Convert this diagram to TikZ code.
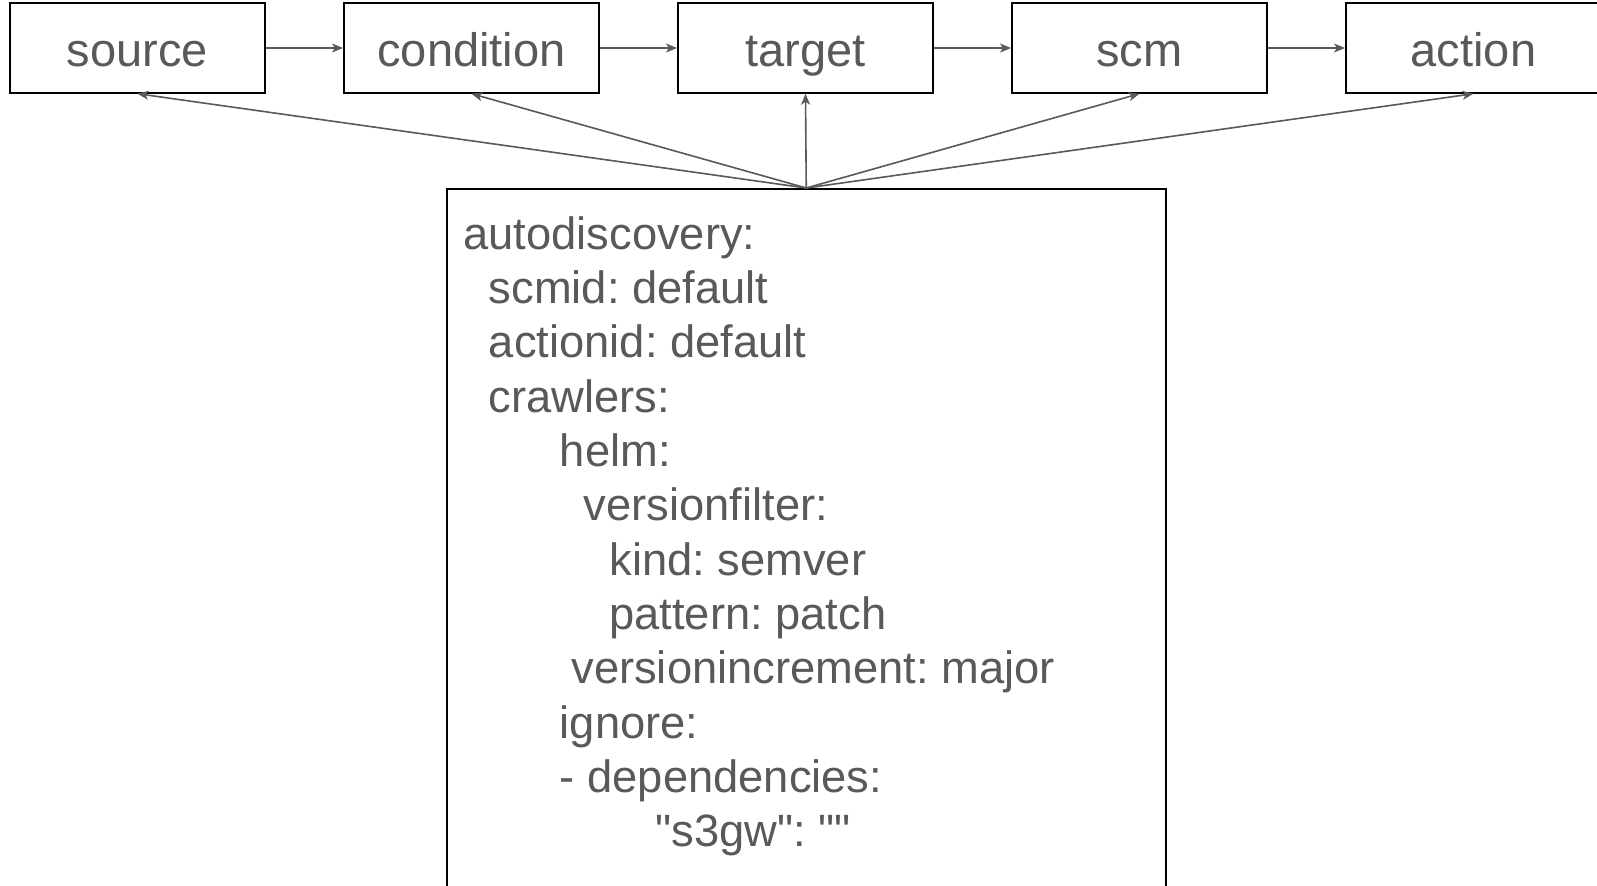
\documentclass[tikz,border=0pt]{standalone}
\usepackage{fontspec}
\setmainfont{Liberation Sans}[Ligatures=TeXOff]
\usetikzlibrary{arrows.meta}
\definecolor{txtgray}{HTML}{595959}
\frenchspacing
\begin{document}
\begin{tikzpicture}[x=0.5pt,y=-0.5pt,
  stagebox/.style={draw=black,line width=1pt,rectangle,inner sep=0pt,
    minimum width=127.5pt,minimum height=44.7pt,text=txtgray,
    font=\fontsize{23.5}{28}\selectfont,text height=22pt,text depth=4pt},
  conn/.style={draw=txtgray,line width=0.8pt,
    -{Stealth[length=5.5pt,width=4.5pt,inset=1.5pt]}},
  cfgtext/.style={text=txtgray,inner sep=0pt,anchor=base west,
    font=\fontsize{22.65}{27.17}\selectfont}]
\useasboundingbox (0,0) rectangle (1597,885);
\fill[white] (0,0) rectangle (1597,885);
\node[stagebox] (source) at (137.5,48) {source};
\node[stagebox] (condition) at (471.5,48) {condition};
\node[stagebox] (target) at (805.5,48) {target};
\node[stagebox] (scm) at (1139.5,48) {scm};
\node[stagebox] (action) at (1473.5,48) {action};
\node[draw=black,line width=1pt,rectangle,inner sep=0pt,anchor=north west,
  minimum width=359.75pt,minimum height=400pt] (cfg) at (445.5,188) {};
\node[cfgtext] (cfgt) at (463,249) {%
\frenchspacing\renewcommand\arraystretch{1}%
\begin{tabular}[t]{@{}l@{}}
autodiscovery:\\
\hspace*{12.75pt}scmid: default\\
\hspace*{12.75pt}actionid: default\\
\hspace*{12.75pt}crawlers:\\
\hspace*{48.25pt}helm:\\
\hspace*{60.25pt}versionfilter:\\
\hspace*{73pt}kind: semver\\
\hspace*{73pt}pattern: patch\\
\hspace*{54pt}versionincrement: major\\
\hspace*{48.25pt}ignore:\\
\hspace*{48.25pt}- dependencies:\\
\hspace*{96pt}"s3gw": ""
\end{tabular}};
\draw[conn] (source) -- (condition);
\draw[conn] (condition) -- (target);
\draw[conn] (target) -- (scm);
\draw[conn] (scm) -- (action);
\foreach \n in {source,condition,target,scm,action}
  \draw[conn] (cfg.north) -- (\n.south);
\end{tikzpicture}
\end{document}
